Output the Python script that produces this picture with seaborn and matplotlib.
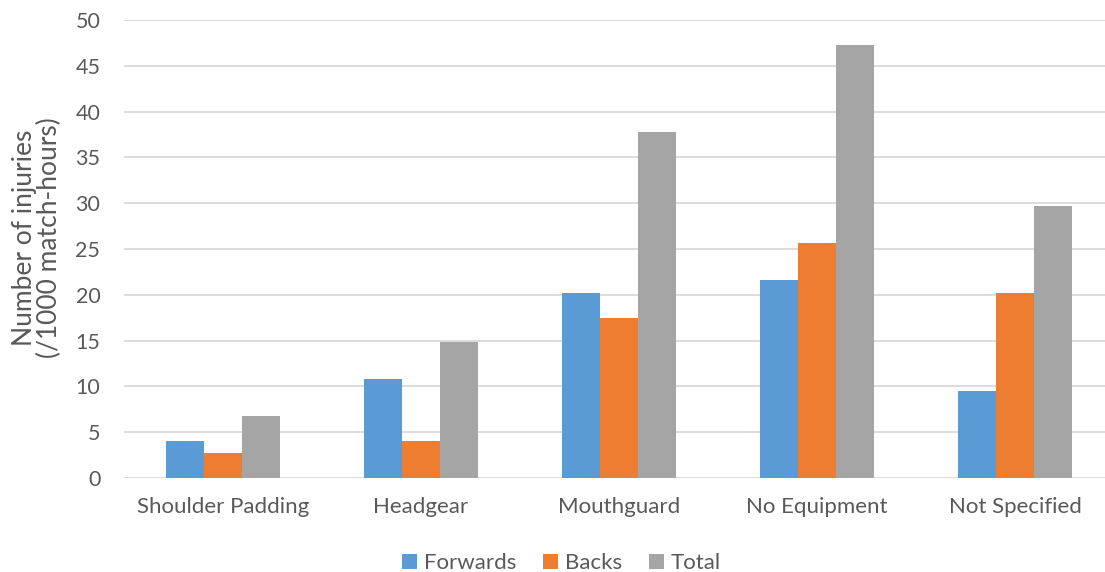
import matplotlib
matplotlib.use("Agg")
import matplotlib.pyplot as plt
import seaborn as sns
import pandas as pd

categories = ["Shoulder Padding", "Headgear", "Mouthguard", "No Equipment", "Not Specified"]
series = ["Forwards", "Backs", "Total"]
forwards = [4.0, 10.8, 20.2, 21.6, 9.5]
backs = [2.7, 4.0, 17.5, 25.7, 20.2]
total = [6.8, 14.85, 37.8, 47.3, 29.7]
yticks = [0, 5, 10, 15, 20, 25, 30, 35, 40, 45, 50]
colors = ["#5B9BD5", "#ED7D31", "#A5A5A5"]

rows = []
for name, vals in zip(series, [forwards, backs, total]):
    for cat, v in zip(categories, vals):
        rows.append({"Equipment": cat, "Group": name, "Rate": v})
df = pd.DataFrame(rows)

sns.set_theme(style="white")
plt.rcParams["font.family"] = ["Lato", "DejaVu Sans"]
text_color = "#595959"

fig = plt.figure(figsize=(11.05, 5.72), dpi=100)
ax = fig.add_axes([0.1122, 0.1643, 0.896, 0.8007])

sns.barplot(data=df, x="Equipment", y="Rate", hue="Group", order=categories,
            hue_order=series, palette=colors, saturation=1, width=0.576,
            linewidth=0, ax=ax, legend=True)

ax.set_ylim(0, 50)
ax.set_yticks(yticks)
ax.set_xlim(-0.5, len(categories) - 0.5)
ax.yaxis.grid(True, color="#D9D9D9", linewidth=1.3)
ax.set_axisbelow(True)
for s in ax.spines.values():
    s.set_visible(False)
ax.tick_params(axis="y", length=0, labelsize=15.5, labelcolor=text_color, pad=17)
ax.tick_params(axis="x", length=0, labelsize=16, labelcolor=text_color, pad=14)
ax.set_xlabel("")
ax.set_ylabel("Number of injuries\n(/1000 match-hours)", fontsize=19, color=text_color,
              linespacing=1.0)
ax.yaxis.set_label_coords(-0.063, 0.525)

handles, labels = ax.get_legend_handles_labels()
ax.get_legend().remove()
leg = fig.legend(handles, labels, loc="center", bbox_to_anchor=(0.508, 0.015), ncol=3,
                 frameon=False, fontsize=16, handlelength=0.7, handleheight=0.7,
                 handletextpad=0.3, columnspacing=1.2)
for t in leg.get_texts():
    t.set_color(text_color)

fig.savefig("out.png", dpi=100)
